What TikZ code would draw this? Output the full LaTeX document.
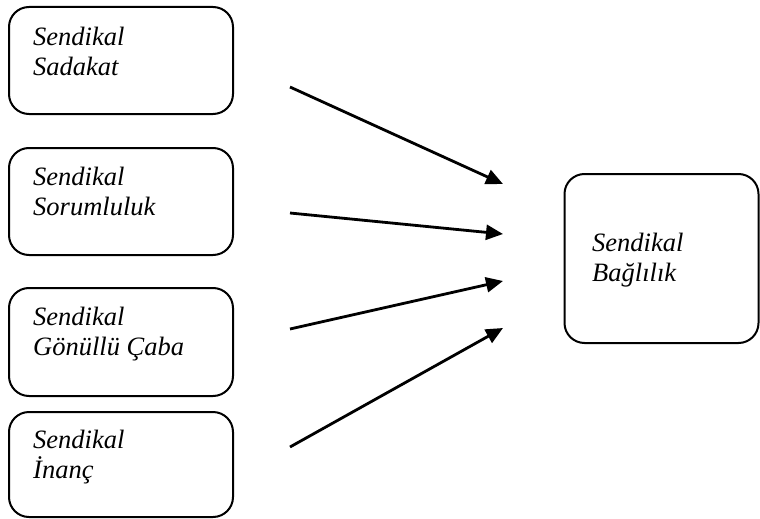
\documentclass[tikz,border=0pt]{standalone}
\usepackage{fontspec}
\setmainfont{Liberation Serif}
\usetikzlibrary{arrows.meta}
\begin{document}
\begin{tikzpicture}[x=1pt,y=-1pt,
  box/.style={draw,line width=2pt,rounded corners=20pt,inner sep=0pt},
  lbl/.style={anchor=base west,inner sep=0pt,font=\fontsize{26.5}{30}\selectfont\itshape,align=left},
  arr/.style={line width=2.8pt,-{Triangle[length=17pt,width=15pt]}}]
\useasboundingbox (0,0) rectangle (760,519);
\path[fill=white] (0,0) rectangle (760,519);
% boxes
\node[box,minimum width=224pt,minimum height=107pt] (b1) at (121,60.5) {};
\node[box,minimum width=224pt,minimum height=107pt] (b2) at (121,201.5) {};
\node[box,minimum width=224pt,minimum height=108pt] (b3) at (121,342) {};
\node[box,minimum width=224pt,minimum height=105pt] (b4) at (121,464.5) {};
\node[box,minimum width=194pt,minimum height=169pt] (r) at (661.5,258.5) {};
% labels
\node[lbl] (t1) at (33,76) {Sendikal\\Sadakat};
\node[lbl] (t2) at (33,215) {Sendikal\\Sorumluluk};
\node[lbl] (t3) at (33,355) {Sendikal\\Gönüllü Çaba};
\node[lbl] (t4) at (33,478) {Sendikal\\İnanç};
\node[lbl] (tr) at (592,281) {Sendikal\\Bağlılık};
% arrow ends
\coordinate (s1) at (290,87);  \coordinate (e1) at (503,184);
\coordinate (s2) at (290,213); \coordinate (e2) at (503,234);
\coordinate (s3) at (290,329); \coordinate (e3) at (503,281);
\coordinate (s4) at (290,447); \coordinate (e4) at (503,328);
\draw[arr] (s1) -- (e1);
\draw[arr] (s2) -- (e2);
\draw[arr] (s3) -- (e3);
\draw[arr] (s4) -- (e4);
\end{tikzpicture}
\end{document}
